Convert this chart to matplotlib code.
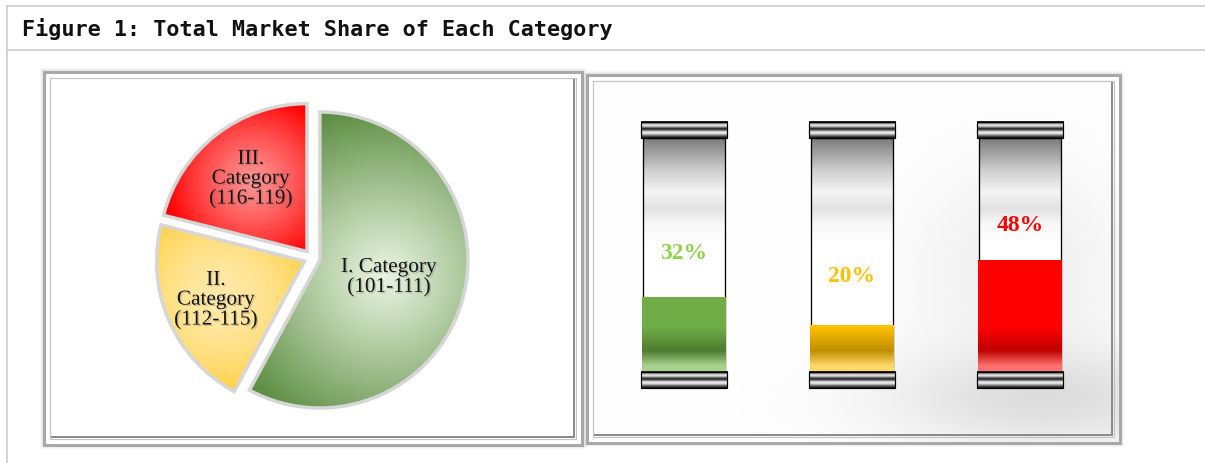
import numpy as np
import matplotlib.pyplot as plt
from matplotlib.patches import Rectangle
from matplotlib.colors import to_rgb
import matplotlib.patheffects as pe

title = "Figure 1: Total Market Share of Each Category"

# pie: number of product codes in each category
pie_labels = ["I. Category\n(101-111)", "II.\nCategory\n(112-115)", "III.\nCategory\n(116-119)"]
pie_counts = [11, 4, 4]
pie_inner = ["#e8f3e0", "#ffe9a8", "#ff9494"]
pie_outer = ["#56893a", "#ffc000", "#ff0000"]

# tubes: market share in percent
shares = [32, 20, 48]
share_labels = ["32%", "20%", "48%"]
bar_colors = ["#70ad47", "#ffc000", "#ff0000"]
bar_dark = ["#4f7b31", "#bf8f00", "#c00000"]
bar_light = ["#a9d18e", "#ffd966", "#ff7070"]
text_colors = ["#92d050", "#ffc000", "#ff0000"]

W, H = 1205, 463
PX = 0.72  # points per pixel at dpi 100


def vgrad(stops, n=256, lo=0.0, hi=1.0):
    pos = np.array([s[0] for s in stops])
    cols = np.array([to_rgb(s[1]) for s in stops])
    y = np.linspace(lo, hi, n)
    img = np.stack([np.interp(y, pos, cols[:, k]) for k in range(3)], axis=-1)
    return img[:, None, :]


fig = plt.figure(figsize=(W / 100, H / 100), dpi=100)
fig.patch.set_facecolor("white")

# ---- background layer in pixel coordinates
ax0 = fig.add_axes([0, 0, 1, 1])
ax0.set_xlim(0, W)
ax0.set_ylim(H, 0)
ax0.axis("off")

ax0.plot([7, W], [6, 6], color="#c8c8c8", lw=1.5 * PX)
ax0.plot([7, 7], [6, H], color="#c8c8c8", lw=1.5 * PX)
ax0.plot([7, W], [50, 50], color="#c8c8c8", lw=1.5 * PX)
ax0.text(22, 29, title, fontsize=15.7, fontweight="bold", family="DejaVu Sans Mono",
         va="center", ha="left", color="#111111")

# faint shading in the right panel
gx, gy = np.meshgrid(np.linspace(587, 1120, 300), np.linspace(75, 443, 200))
shade = 1 - 0.12 * np.exp(-((gx - 1050) ** 2 / 170 ** 2 + (gy - 400) ** 2 / 50 ** 2)) \
        - 0.06 * np.exp(-((gx - 1020) ** 2 / 110 ** 2 + (gy - 270) ** 2 / 110 ** 2))
ax0.imshow(np.dstack([shade] * 3), extent=(587, 1120, 443, 75), aspect="auto", zorder=0)


def frame(x0, y0, x1, y1):
    for i, a in enumerate([0.05, 0.08, 0.12]):
        g = 3 - i
        ax0.add_patch(Rectangle((x0 - g, y0 - g), x1 - x0 + 2 * g, y1 - y0 + 2 * g,
                                fill=False, ec="#808080", lw=2 * PX, alpha=a, zorder=1))
    ax0.add_patch(Rectangle((x0, y0), x1 - x0, y1 - y0, fill=False, ec="#a8a8a8",
                            lw=3 * PX, zorder=1))
    ax0.add_patch(Rectangle((x0 + 6, y0 + 6), x1 - x0 - 12, y1 - y0 - 12, fill=False,
                            ec="#c4c4c4", lw=1.2 * PX, zorder=1))
    ax0.plot([x1 - 8, x1 - 8], [y0 + 8, y1 - 8], color="#8c8c8c", lw=2 * PX, zorder=1)
    ax0.plot([x0 + 8, x1 - 8], [y1 - 8, y1 - 8], color="#8c8c8c", lw=2 * PX, zorder=1)


frame(44, 72, 582, 445)
frame(587, 75, 1120, 443)

# ---- pie
cx, cy, R = 312, 258, 148
lim = 1.15
axp = fig.add_axes([(cx - lim * R) / W, (H - cy - lim * R) / H, 2 * lim * R / W, 2 * lim * R / H])
wedges, _ = axp.pie(pie_counts, startangle=90, counterclock=False,
                    explode=[0.055] * 3, colors=pie_outer)
axp.set_aspect("equal")
axp.axis("off")

grad_r = [0.45, 0.62, 0.6]
grad_size = [1.2, 0.85, 0.6]
grad_pow = [1.1, 1.8, 1.2]
label_r = [0.48, 0.655, 0.62]
xx, yy = np.meshgrid(np.linspace(-lim, lim, 500), np.linspace(-lim, lim, 500))
for w, ci, co, gr, gs, gp, lab, lr in zip(wedges, pie_inner, pie_outer, grad_r, grad_size,
                                          grad_pow, pie_labels, label_r):
    th = np.deg2rad((w.theta1 + w.theta2) / 2)
    ox, oy = w.center
    gcx, gcy = ox + gr * np.cos(th), oy + gr * np.sin(th)
    t = np.clip(np.hypot(xx - gcx, yy - gcy) / gs, 0, 1) ** gp
    img = (1 - t)[..., None] * np.array(to_rgb(ci)) + t[..., None] * np.array(to_rgb(co))
    im = axp.imshow(img, extent=(-lim, lim, -lim, lim), origin="lower", zorder=2,
                    interpolation="bilinear")
    im.set_clip_path(w)
    w.set_facecolor("none")
    w.set_edgecolor("#d6d6d6")
    w.set_linewidth(3.5 * PX)
    w.set_zorder(3)
    axp.text(ox + lr * np.cos(th), oy + lr * np.sin(th), lab, ha="center", va="center",
             fontsize=15.3, family="Liberation Serif", linespacing=1.05, color="#141414",
             zorder=4,
             path_effects=[pe.SimplePatchShadow(offset=(1.0, -1.0), shadow_rgbFace="#666666",
                                                alpha=0.3), pe.Normal()])
axp.set_xlim(-lim, lim)
axp.set_ylim(-lim, lim)

# ---- tubes
x = np.arange(len(shares))
tube_w, cap_w = 0.488, 0.512
y_lo, y_hi = -8, 108
axb = fig.add_axes([600 / W, (H - 390.7) / H, 504 / W, 271.4 / H])
axb.axis("off")

tube_stops = [(0, "#ffffff"), (55, "#ffffff"), (63, "#f8f8f8"), (70, "#e2e2e2"),
              (77, "#f4f4f4"), (86, "#d0d0d0"), (100, "#7c7c7c")]
cap_stops = [(0, "#0a0a0a"), (0.12, "#5a5a5a"), (0.25, "#d8d8d8"), (0.35, "#f6f6f6"),
             (0.47, "#5c5c5c"), (0.56, "#1c1c1c"), (0.66, "#a8a8a8"), (0.76, "#f2f2f2"),
             (0.87, "#7a7a7a"), (1.0, "#0a0a0a")]

tubes = axb.bar(x, [100] * len(x), width=tube_w, color="none", edgecolor="black",
                lw=1.3 * PX, zorder=3)
fills = axb.bar(x, shares, width=tube_w + 0.01, color=bar_colors, lw=0, zorder=4)

for i, (xi, tb, fb) in enumerate(zip(x, tubes, fills)):
    im = axb.imshow(vgrad(tube_stops, lo=0, hi=100), extent=(xi - tube_w / 2, xi + tube_w / 2, 0, 100),
                    origin="lower", aspect="auto", zorder=2, interpolation="bilinear")
    im.set_clip_path(tb)
    fstops = [(0, bar_light[i]), (2.5, bar_light[i]), (9, bar_dark[i]), (19, bar_colors[i]),
              (100, bar_colors[i])]
    im2 = axb.imshow(vgrad(fstops, lo=0, hi=100), extent=(xi - 0.26, xi + 0.26, 0, 100),
                     origin="lower", aspect="auto", zorder=5, interpolation="bilinear")
    im2.set_clip_path(fb)
    for c0 in (-7, 100):
        axb.imshow(vgrad(cap_stops)[::-1], extent=(xi - cap_w / 2, xi + cap_w / 2, c0, c0 + 7),
                   origin="upper", aspect="auto", zorder=6, interpolation="bilinear")
        axb.add_patch(Rectangle((xi - cap_w / 2, c0), cap_w, 7, fill=False, ec="black",
                                lw=1.2 * PX, zorder=7))

label_pad = [18.5, 21, 14.5]
for xi, v, s, c, p in zip(x, shares, share_labels, text_colors, label_pad):
    axb.text(xi, v + p, s, ha="center", va="center", fontsize=17, fontweight="bold",
             family="Liberation Serif", color=c, zorder=8)

axb.set_xlim(-0.5, 2.5)
axb.set_ylim(y_lo, y_hi)

fig.savefig("out.png", dpi=100, facecolor="white")
